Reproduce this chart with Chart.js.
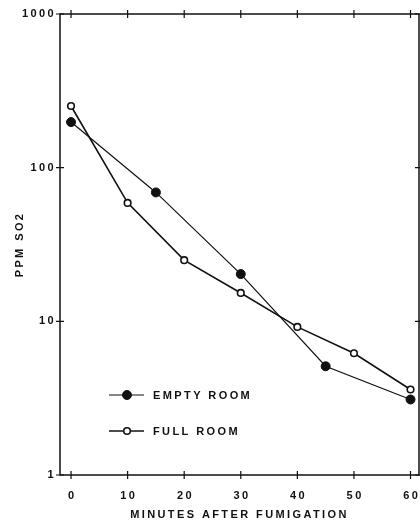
<!DOCTYPE html>
<html>
<head>
<meta charset="utf-8">
<script src="https://cdn.jsdelivr.net/npm/chart.js@4.4.1/dist/chart.umd.min.js"></script>
<style>
  body { margin: 0; background: #fff; }
  canvas { display: block; }
</style>
</head>
<body>
<canvas id="myChart" width="420" height="522"></canvas>
<script>
const emptyMinutes = [0, 15, 30, 45, 60];
const emptyPpm = [198, 69, 20.3, 5.1, 3.1];
const fullMinutes = [0, 10, 20, 30, 40, 50, 60];
const fullPpm = [252, 59, 25, 15.3, 9.2, 6.2, 3.6];
const xTicks = [0, 10, 20, 30, 40, 50, 60];
const yTicks = [1, 10, 100, 1000];
const seriesNames = ['EMPTY ROOM', 'FULL ROOM'];

const INK = '#111';
const FONT = "'Liberation Sans', Arial, sans-serif";
const SPACING = '2.4px';

function toPoints(xs, ys) {
        return xs.map(function(v, i) { return {x: v, y: ys[i]}; });
}

// frame, crossing tick marks, x tick labels and the legend inside the plot
const framePlugin = {
        id: 'frame',
        beforeDraw: function(chart) {
                chart.ctx.letterSpacing = SPACING;
        },
        afterDraw: function(chart) {
                const ctx = chart.ctx;
                const a = chart.chartArea;
                const xs = chart.scales.x;
                const ys = chart.scales.y;
                ctx.save();
                ctx.strokeStyle = INK;
                ctx.lineWidth = 1.5;
                ctx.strokeRect(a.left, a.top, a.right - a.left, a.bottom - a.top);
                ctx.lineWidth = 1.2;
                ctx.beginPath();
                for (const v of xTicks) {
                        const px = xs.getPixelForValue(v);
                        ctx.moveTo(px, a.bottom - 4); ctx.lineTo(px, a.bottom + 4);
                        ctx.moveTo(px, a.top - 4); ctx.lineTo(px, a.top + 4);
                }
                for (const v of yTicks) {
                        const py = ys.getPixelForValue(v);
                        ctx.moveTo(a.left - 4, py); ctx.lineTo(a.left + 4, py);
                        ctx.moveTo(a.right - 4, py); ctx.lineTo(a.right + 4, py);
                }
                ctx.stroke();

                ctx.letterSpacing = SPACING;
                ctx.font = 'bold 11px ' + FONT;
                ctx.fillStyle = INK;

                // x tick labels
                ctx.textAlign = 'center';
                ctx.textBaseline = 'middle';
                for (const v of xTicks) {
                        ctx.fillText(String(v), xs.getPixelForValue(v) + 1.2, a.bottom + 21);
                }

                // legend
                chart.data.datasets.forEach(function(ds, i) {
                        const ly = a.bottom - 80 + i * 36;
                        const lx = a.left + 49;
                        ctx.strokeStyle = INK;
                        ctx.lineWidth = ds.borderWidth;
                        ctx.beginPath();
                        ctx.moveTo(lx, ly); ctx.lineTo(lx + 35, ly);
                        ctx.stroke();
                        ctx.beginPath();
                        ctx.arc(lx + 18, ly, ds.pointRadius, 0, Math.PI * 2);
                        ctx.fillStyle = ds.pointBackgroundColor;
                        ctx.fill();
                        ctx.lineWidth = ds.pointBorderWidth;
                        ctx.stroke();
                        ctx.fillStyle = INK;
                        ctx.textAlign = 'left';
                        ctx.fillText(ds.label, lx + 44, ly + 1);
                });
                ctx.restore();
        }
};

const data = {
        datasets: [{
                label: seriesNames[0],
                data: toPoints(emptyMinutes, emptyPpm),
                borderColor: INK,
                borderWidth: 1.2,
                pointRadius: 4.5,
                pointBackgroundColor: INK,
                pointBorderColor: INK,
                pointBorderWidth: 1,
                tension: 0
        }, {
                label: seriesNames[1],
                data: toPoints(fullMinutes, fullPpm),
                borderColor: INK,
                borderWidth: 1.6,
                pointRadius: 3.3,
                pointBackgroundColor: '#fff',
                pointBorderColor: INK,
                pointBorderWidth: 1.6,
                tension: 0
        }]
};

const config = {
        type: 'line',
        data: data,
        plugins: [framePlugin],
        options: {
                responsive: false,
                devicePixelRatio: 1,
                animation: false,
                clip: false,
                layout: {
                        autoPadding: false,
                        padding: { top: 14, right: 1, left: 0, bottom: 0 }
                },
                plugins: {
                        legend: { display: false },
                        tooltip: { enabled: false }
                },
                scales: {
                        x: {
                                type: 'linear',
                                min: -1.95,
                                max: 61.5,
                                afterBuildTicks: function(s) { s.ticks = xTicks.map(function(v) { return {value: v}; }); },
                                afterFit: function(s) {
                                        s.height = 47;
                                        s.paddingLeft = 0;
                                        s.paddingRight = 0;
                                },
                                grid: { display: false, drawTicks: false },
                                border: { display: false },
                                ticks: { display: false },
                                title: {
                                        display: true,
                                        text: 'MINUTES AFTER FUMIGATION',
                                        color: INK,
                                        padding: { top: 0, bottom: 0 },
                                        font: { family: FONT, size: 11, weight: 'bold' }
                                }
                        },
                        y: {
                                type: 'logarithmic',
                                min: 1,
                                max: 1000,
                                afterBuildTicks: function(s) { s.ticks = yTicks.map(function(v) { return {value: v}; }); },
                                afterFit: function(s) {
                                        s.width = 60;
                                        s.paddingTop = 0;
                                        s.paddingBottom = 0;
                                },
                                grid: { display: false, drawTicks: false },
                                border: { display: false },
                                ticks: {
                                        color: INK,
                                        padding: 4,
                                        callback: function(v) { return String(v); },
                                        font: { family: FONT, size: 11, weight: 'bold' }
                                },
                                title: {
                                        display: true,
                                        text: 'PPM SO2',
                                        color: INK,
                                        padding: { top: 13, bottom: 0 },
                                        font: { family: FONT, size: 11, weight: 'bold' }
                                }
                        }
                }
        }
};

const myChart = new Chart(document.getElementById('myChart'), config);
</script>
</body>
</html>
